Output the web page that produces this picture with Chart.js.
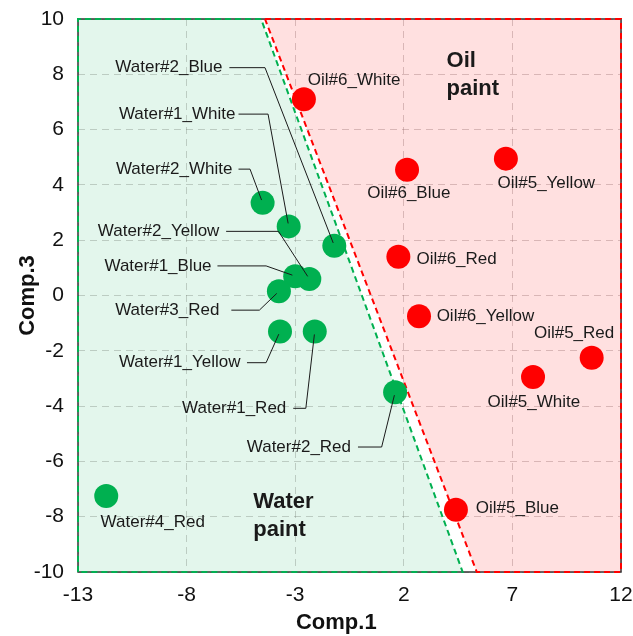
<!DOCTYPE html>
<html>
<head>
<meta charset="utf-8">
<title>Comp.1 vs Comp.3</title>
<script src="https://cdn.jsdelivr.net/npm/chart.js@4.4.0/dist/chart.umd.min.js"></script>
<style>
  html, body { margin: 0; padding: 0; background: #fff; }
  #chart { display: block; }
</style>
</head>
<body>
<canvas id="chart" width="633" height="636"></canvas>
<script>
// scores
const waterNames = ['Water#2_White', 'Water#1_White', 'Water#2_Blue', 'Water#1_Blue', 'Water#2_Yellow',
    'Water#3_Red', 'Water#1_Yellow', 'Water#1_Red', 'Water#2_Red', 'Water#4_Red'];
const waterComp1 = [-4.5, -3.3, -1.2, -3.0, -2.35, -3.75, -3.7, -2.1, 1.6, -11.7];
const waterComp3 = [3.35, 2.5, 1.8, 0.7, 0.6, 0.15, -1.3, -1.3, -3.5, -7.25];

const oilNames = ['Oil#6_White', 'Oil#6_Blue', 'Oil#5_Yellow', 'Oil#6_Red', 'Oil#6_Yellow',
    'Oil#5_Red', 'Oil#5_White', 'Oil#5_Blue'];
const oilComp1 = [-2.6, 2.15, 6.7, 1.75, 2.7, 10.65, 7.95, 4.4];
const oilComp3 = [7.1, 4.55, 4.95, 1.4, -0.75, -2.25, -2.95, -7.75];

// the two dashed boundaries, as the Comp.1 value where they meet the top and the bottom edge
const waterEdgeX = [-4.57, 4.71];
const oilEdgeX = [-4.39, 5.36];

const xTicks = [-13, -8, -3, 2, 7, 12];
const yTicks = [-10, -8, -6, -4, -2, 0, 2, 4, 6, 8, 10];

// where the point names go (data units); leader labels: text end, line start, elbow
const leaderLabels = [
    { name: 'Water#2_Blue', tx: -6.35, lx: -6.03, ex: -4.39, y: 8.24 },
    { name: 'Water#1_White', tx: -5.75, lx: -5.61, ex: -4.25, y: 6.56 },
    { name: 'Water#2_White', tx: -5.89, lx: -5.61, ex: -5.08, y: 4.57 },
    { name: 'Water#2_Yellow', tx: -6.49, lx: -6.18, ex: -3.77, y: 2.32 },
    { name: 'Water#1_Blue', tx: -6.85, lx: -6.58, ex: -4.34, y: 1.07 },
    { name: 'Water#3_Red', tx: -6.49, lx: -5.94, ex: -4.65, y: -0.53 },
    { name: 'Water#1_Yellow', tx: -5.52, lx: -5.22, ex: -4.34, y: -2.43 },
    { name: 'Water#1_Red', tx: -3.41, lx: -3.09, ex: -2.51, y: -4.08 },
    { name: 'Water#2_Red', tx: -0.43, lx: -0.11, ex: 0.98, y: -5.48 }
];
const plainLabels = [
    { name: 'Oil#6_White', x: -0.29, y: 7.77 },
    { name: 'Oil#6_Blue', x: 2.23, y: 3.68 },
    { name: 'Oil#5_Yellow', x: 8.56, y: 4.04 },
    { name: 'Oil#6_Red', x: 4.43, y: 1.32 },
    { name: 'Oil#6_Yellow', x: 5.76, y: -0.74 },
    { name: 'Oil#5_Red', x: 9.84, y: -1.36 },
    { name: 'Oil#5_White', x: 7.99, y: -3.86 },
    { name: 'Oil#5_Blue', x: 7.23, y: -7.70 },
    { name: 'Water#4_Red', x: -9.56, y: -8.21 }
];
const regionLabels = [
    { lines: ['Oil', 'paint'], x: 3.97, y: 8.5 },
    { lines: ['Water', 'paint'], x: -4.93, y: -7.48 }
];

const FONT = '"Liberation Sans", Arial, sans-serif';
const GREEN = '#00b050';
const RED = '#ff0000';
const xMin = xTicks[0], xMax = xTicks[xTicks.length - 1];
const yMin = yTicks[0], yMax = yTicks[yTicks.length - 1];

const toPoints = (xs, ys) => xs.map((x, i) => ({ x: x, y: ys[i] }));

// frame, leader lines and text labels
const annotate = {
    id: 'annotate',
    beforeDatasetsDraw(chart) {
        const a = chart.chartArea;
        const ctx = chart.ctx;
        ctx.save();
        ctx.strokeStyle = '#333';
        ctx.lineWidth = 1.5;
        ctx.strokeRect(a.left, a.top, a.right - a.left, a.bottom - a.top);
        ctx.restore();
    },
    afterDatasetsDraw(chart) {
        const ctx = chart.ctx;
        const xs = chart.scales.x, ys = chart.scales.y;
        const px = v => xs.getPixelForValue(v);
        const py = v => ys.getPixelForValue(v);
        ctx.save();
        ctx.fillStyle = '#1a1a1a';
        ctx.strokeStyle = '#1a1a1a';
        ctx.lineWidth = 1;
        ctx.font = '17px ' + FONT;
        ctx.textBaseline = 'middle';

        leaderLabels.forEach(l => {
            const i = waterNames.indexOf(l.name);
            const cx = px(waterComp1[i]), cy = py(waterComp3[i]);
            const ex = px(l.ex), y = py(l.y);
            const dx = ex - cx, dy = y - cy, len = Math.hypot(dx, dy);
            ctx.beginPath();
            ctx.moveTo(px(l.lx), y);
            ctx.lineTo(ex, y);
            ctx.lineTo(cx + dx / len * 3, cy + dy / len * 3);
            ctx.stroke();
            ctx.textAlign = 'right';
            ctx.fillText(l.name, px(l.tx), y);
        });

        ctx.textAlign = 'center';
        plainLabels.forEach(l => ctx.fillText(l.name, px(l.x), py(l.y)));

        ctx.font = 'bold 22px ' + FONT;
        ctx.textAlign = 'left';
        regionLabels.forEach(r => {
            r.lines.forEach((t, k) => ctx.fillText(t, px(r.x), py(r.y) + k * 28));
        });
        ctx.restore();
    }
};

const gridStyle = {
    color: 'rgba(120, 110, 110, 0.32)',
    lineWidth: 1,
    drawTicks: false
};
const gridDash = { display: false, dash: [7, 5] };

const ctx = document.getElementById('chart').getContext('2d');
const chart = new Chart(ctx, {
    type: 'scatter',
    data: {
        datasets: [
            {
                label: 'Water paint',
                data: toPoints(waterComp1, waterComp3),
                backgroundColor: GREEN,
                borderWidth: 0,
                pointRadius: 12,
                order: 0
            },
            {
                label: 'Oil paint',
                data: toPoints(oilComp1, oilComp3),
                backgroundColor: RED,
                borderWidth: 0,
                pointRadius: 12,
                order: 0
            },
            {
                type: 'line',
                label: 'water outline',
                data: [{ x: xMin, y: yMin }, { x: xMin, y: yMax }, { x: waterEdgeX[0], y: yMax },
                    { x: waterEdgeX[1], y: yMin }, { x: xMin, y: yMin }],
                borderColor: GREEN,
                borderWidth: 2,
                borderDash: [6, 4],
                pointRadius: 0,
                fill: false,
                clip: 3,
                order: 1
            },
            {
                type: 'line',
                label: 'oil outline',
                data: [{ x: oilEdgeX[0], y: yMax }, { x: xMax, y: yMax }, { x: xMax, y: yMin },
                    { x: oilEdgeX[1], y: yMin }, { x: oilEdgeX[0], y: yMax }],
                borderColor: RED,
                borderWidth: 2,
                borderDash: [6, 4],
                pointRadius: 0,
                fill: false,
                clip: 3,
                order: 1
            },
            {
                type: 'line',
                label: 'water region',
                data: [{ x: xMin, y: yMax }, { x: waterEdgeX[0], y: yMax }, { x: waterEdgeX[1], y: yMin }],
                borderColor: 'transparent',
                backgroundColor: 'rgba(0, 176, 80, 0.11)',
                pointRadius: 0,
                fill: 'start',
                order: 2
            },
            {
                type: 'line',
                label: 'oil region',
                data: [{ x: oilEdgeX[0], y: yMax }, { x: oilEdgeX[1], y: yMin }, { x: xMax, y: yMin }],
                borderColor: 'transparent',
                backgroundColor: 'rgba(255, 0, 0, 0.12)',
                pointRadius: 0,
                fill: 'end',
                order: 2
            }
        ]
    },
    options: {
        responsive: false,
        devicePixelRatio: 1,
        animation: false,
        events: [],
        layout: { padding: { top: 19, right: 10, left: 0, bottom: 0 } },
        plugins: {
            legend: { display: false },
            tooltip: { enabled: false }
        },
        scales: {
            x: {
                type: 'linear',
                min: xMin,
                max: xMax,
                afterBuildTicks: s => { s.ticks = xTicks.map(v => ({ value: v })); },
                afterFit: s => { s.height = 64; s.paddingLeft = 0; s.paddingRight = 0; },
                ticks: {
                    color: '#111',
                    font: { family: FONT, size: 21 },
                    padding: 11,
                    maxRotation: 0,
                    callback: v => String(v)
                },
                grid: gridStyle,
                border: gridDash,
                title: {
                    display: true,
                    // trailing spaces nudge the centred title left, as in the original
                    text: 'Comp.1\u2003\u2009',
                    color: '#111',
                    font: { family: FONT, size: 22, weight: 'bold' },
                    padding: { top: 0, bottom: 0 }
                }
            },
            y: {
                type: 'linear',
                min: yMin,
                max: yMax,
                afterBuildTicks: s => { s.ticks = yTicks.map(v => ({ value: v })); },
                afterFit: s => { s.width = 78; s.paddingTop = 0; s.paddingBottom = 0; },
                ticks: {
                    color: '#111',
                    font: { family: FONT, size: 21 },
                    padding: 14,
                    callback: v => String(v)
                },
                grid: gridStyle,
                border: gridDash,
                title: {
                    display: true,
                    text: 'Comp.3',
                    color: '#111',
                    font: { family: FONT, size: 22, weight: 'bold' },
                    padding: { top: 15, bottom: 0 }
                }
            }
        }
    },
    plugins: [annotate]
});
</script>
</body>
</html>
